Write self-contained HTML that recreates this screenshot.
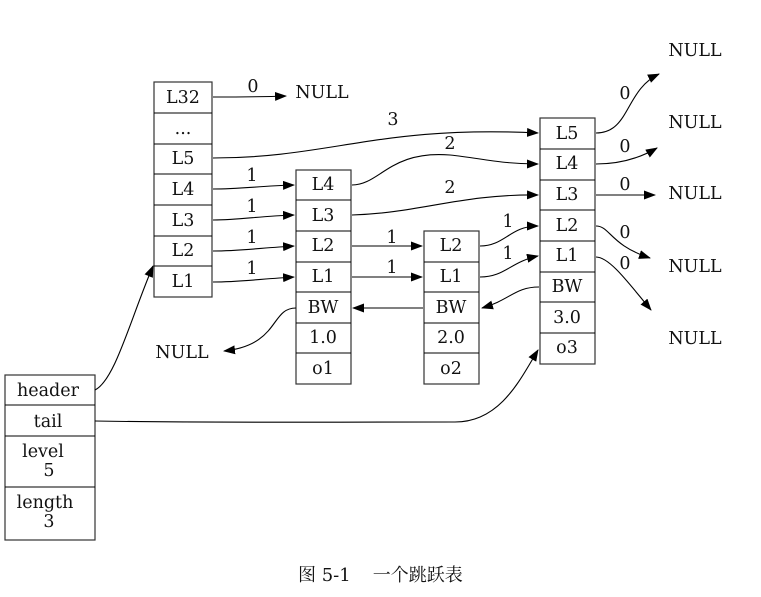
<!DOCTYPE html>
<html><head><meta charset="utf-8"><style>
body{margin:0;background:#fff}
svg{display:block}
text{font-family:"DejaVu Serif","Noto Serif CJK SC",serif;font-size:17.5px;fill:#111}
.b{fill:#fff;stroke:#333;stroke-width:1.2}
.l{fill:none;stroke:#000;stroke-width:1.1}
</style></head><body>
<svg width="761" height="597" viewBox="0 0 761 597" xmlns="http://www.w3.org/2000/svg">
<defs><marker id="a" markerWidth="12" markerHeight="9" refX="11" refY="4.5" orient="auto" markerUnits="userSpaceOnUse"><path d="M0,0 L12,4.5 L0,9z" fill="#000"/></marker></defs>
<g text-anchor="middle">
<rect class="b" x="154" y="82" width="58" height="215"/>
<path class="l" d="M154,113H212M154,144H212M154,174H212M154,205H212M154,236H212M154,266H212"/>
<text x="183" y="103">L32</text><text x="183" y="134">...</text><text x="183" y="164">L5</text><text x="183" y="195">L4</text><text x="183" y="226">L3</text><text x="183" y="256">L2</text><text x="183" y="287">L1</text>
<rect class="b" x="296" y="170" width="55" height="214"/>
<path class="l" d="M296,200H351M296,231H351M296,262H351M296,292H351M296,323H351M296,353H351"/>
<text x="323" y="190">L4</text><text x="323" y="221">L3</text><text x="323" y="251">L2</text><text x="323" y="282">L1</text><text x="323" y="313">BW</text><text x="323" y="343">1.0</text><text x="323" y="374">o1</text>
<rect class="b" x="424" y="231" width="55" height="153"/>
<path class="l" d="M424,262H479M424,292H479M424,323H479M424,353H479"/>
<text x="451" y="251">L2</text><text x="451" y="282">L1</text><text x="451" y="313">BW</text><text x="451" y="343">2.0</text><text x="451" y="374">o2</text>
<rect class="b" x="540" y="118" width="55" height="246"/>
<path class="l" d="M540,149H595M540,180H595M540,210H595M540,241H595M540,272H595M540,302H595M540,333H595"/>
<text x="567" y="139">L5</text><text x="567" y="169">L4</text><text x="567" y="200">L3</text><text x="567" y="231">L2</text><text x="567" y="261">L1</text><text x="567" y="292">BW</text><text x="567" y="323">3.0</text><text x="567" y="353">o3</text>
<rect class="b" x="5" y="375" width="90" height="165"/>
<path class="l" d="M5,405H95M5,436H95M5,487H95"/>
<text x="48" y="396">header</text><text x="48" y="427">tail</text>
<text x="43" y="457">level</text><text x="49" y="476">5</text>
<text x="45" y="508">length</text><text x="49" y="527">3</text>
<text x="322" y="98">NULL</text><text x="695" y="56">NULL</text><text x="695" y="128">NULL</text><text x="695" y="199">NULL</text><text x="695" y="272">NULL</text><text x="182" y="358">NULL</text><text x="695" y="344">NULL</text>
<text x="253" y="92">0</text><text x="393" y="125">3</text><text x="450" y="149">2</text><text x="450" y="193">2</text>
<text x="252" y="181">1</text><text x="252" y="212">1</text><text x="252" y="243">1</text><text x="252" y="274">1</text>
<text x="392" y="243">1</text><text x="392" y="273">1</text><text x="508" y="227">1</text><text x="508" y="259">1</text>
<text x="625" y="99">0</text><text x="625" y="152">0</text><text x="625" y="190">0</text><text x="625" y="238">0</text><text x="625" y="269">0</text>
</g>
<g class="l" marker-end="url(#a)">
<path d="M213,97C240,97 260,97 286,96"/>
<path d="M213,158C330,158 380,125 538,133"/>
<path d="M213,189C240,189 260,186 294,185"/>
<path d="M213,220C240,220 260,216 294,215"/>
<path d="M213,251C240,251 260,248 294,246"/>
<path d="M213,282C240,282 260,279 294,277"/>
<path d="M352,185C380,185 390,150 450,155C480,158 500,164 538,164"/>
<path d="M352,215C420,213 460,194 538,195"/>
<path d="M352,246L422,246"/>
<path d="M352,277L422,277"/>
<path d="M480,246C505,246 510,226 538,226"/>
<path d="M480,277C505,277 510,262 538,256"/>
<path d="M539,287C515,287 510,300 482,308"/>
<path d="M423,308L353,308"/>
<path d="M296,308C270,308 280,345 224,351"/>
<path d="M596,133C630,133 625,90 659,74"/>
<path d="M596,164C620,164 640,158 657,148"/>
<path d="M596,195L655,195"/>
<path d="M596,226C610,226 610,245 650,258"/>
<path d="M596,257C610,257 630,285 651,310"/>
<path d="M95,390C115,380 130,320 153,266"/>
<path d="M95,421C200,423 300,422 455,422C500,422 520,380 538,350"/>
</g>
<text x="298" y="581" style="font-size:18px">图 5-1<tspan dx="22">一个跳跃表</tspan></text>
</svg>
</body></html>
